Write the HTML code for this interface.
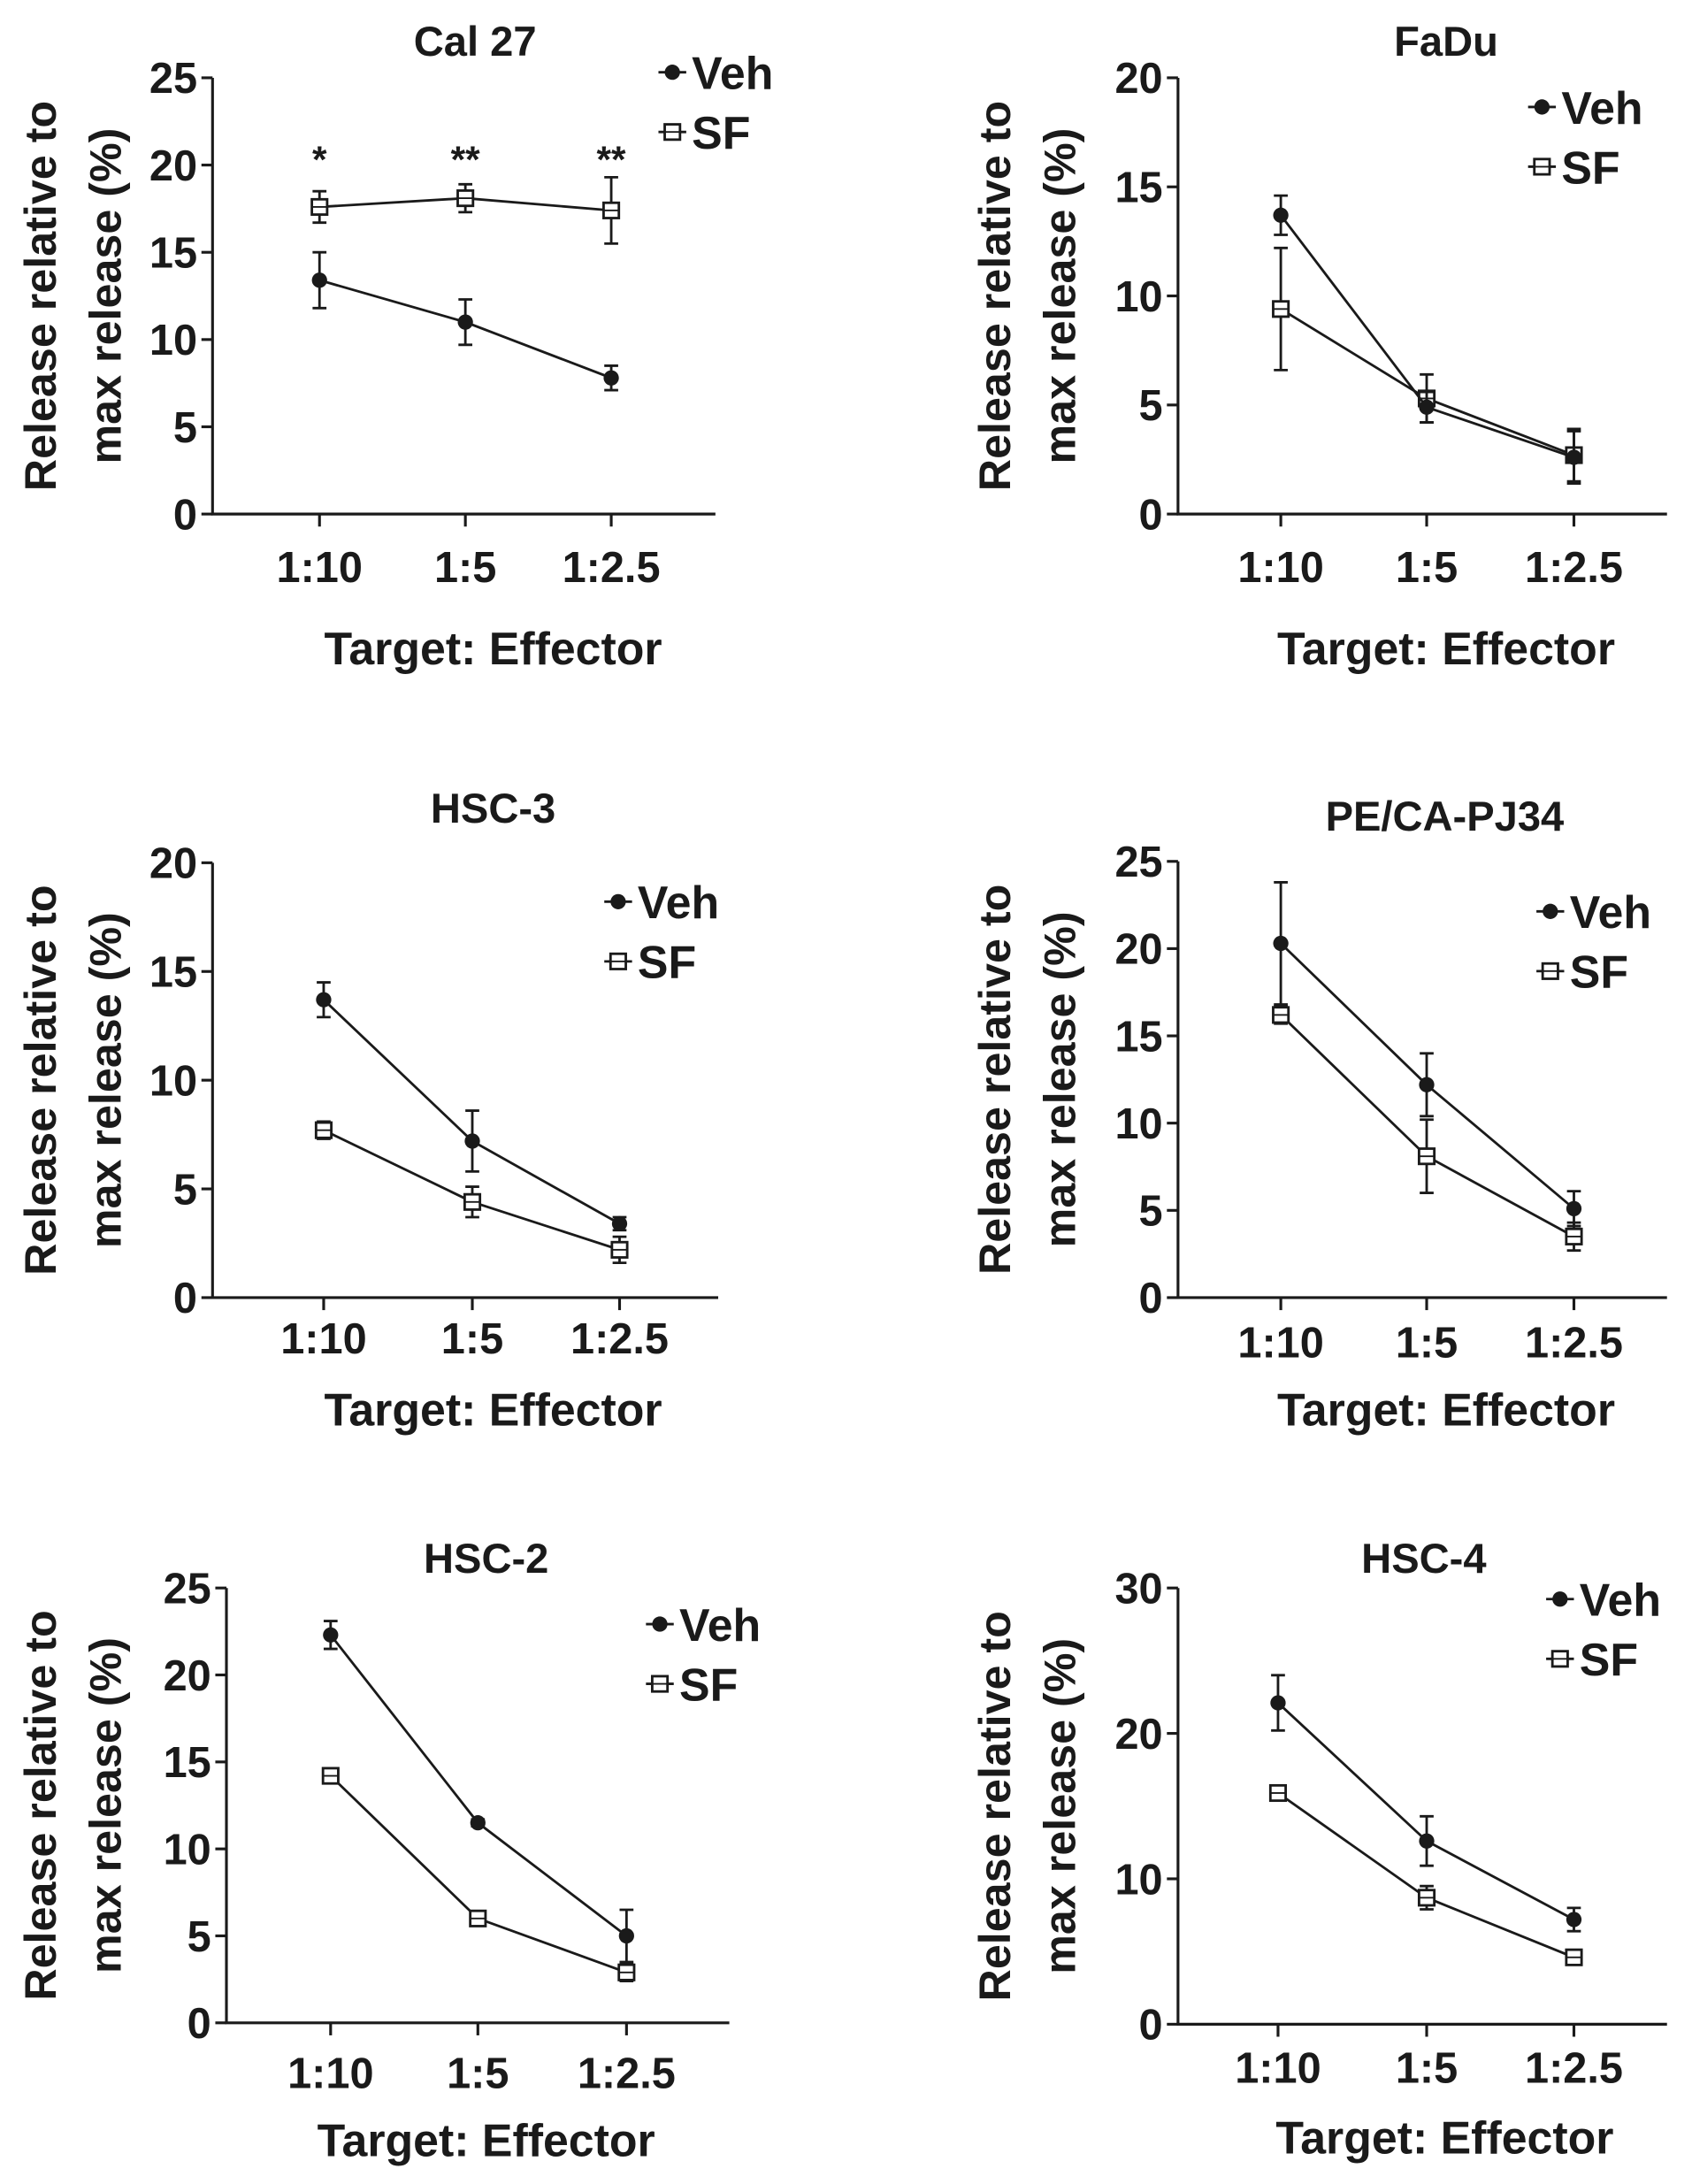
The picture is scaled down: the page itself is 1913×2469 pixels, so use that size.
<!DOCTYPE html>
<html><head><meta charset="utf-8"><style>
html,body{margin:0;padding:0;background:#fff}
svg{display:block}
text{font-family:"Liberation Sans",Arial,sans-serif;fill:#1a1a1a;font-weight:bold}
</style></head><body>
<svg id="fig" width="1913" height="2469" viewBox="0 0 1218 1572" preserveAspectRatio="none" xmlns="http://www.w3.org/2000/svg"></svg>
<script>
const categories = ["1:10","1:5","1:2.5"];
const panelTitles = ["Cal 27","FaDu","HSC-3","PE/CA-PJ34","HSC-2","HSC-4"];
const vehValues = [[13.4,11.0,7.8],[13.7,4.9,2.6],[13.7,7.2,3.4],[20.3,12.2,5.1],[22.3,11.5,5.0],[22.1,12.6,7.2]];
const vehErrors = [[1.6,1.3,0.7],[0.9,0.7,1.2],[0.8,1.4,0.3],[3.5,1.8,1.0],[0.8,0.2,1.5],[1.9,1.7,0.8]];
const sfValues = [[17.6,18.1,17.4],[9.4,5.3,2.7],[7.7,4.4,2.2],[16.2,8.1,3.5],[14.2,6.0,2.9],[15.9,8.7,4.6]];
const sfErrors = [[0.9,0.8,1.9],[2.8,1.1,1.2],[0.4,0.7,0.6],[0.5,2.1,0.8],[0.3,0.3,0.5],[0.3,0.8,0.4]];
const yMax = [25,20,20,25,25,30];
const yStep = [5,5,5,5,5,10];
const stars = ["*","**","**"];

const layouts = [
 {ax:153,top:56,bot:370,xend:515,ticks:[230,335,440],tx:342,ty:40,lx:484,ly:52,tly:408,xty:478,xtc:355,ylx:28},
 {ax:848,top:56,bot:370,xend:1200,ticks:[922,1027,1133],tx:1041,ty:40,lx:1110,ly:77,tly:408,xty:478,xtc:1041,ylx:715},
 {ax:153,top:621,bot:934,xend:517,ticks:[233,340,446],tx:355,ty:592,lx:445,ly:649,tly:963,xty:1026,xtc:355,ylx:28},
 {ax:848,top:620,bot:934,xend:1200,ticks:[922,1027,1133],tx:1040,ty:598,lx:1116,ly:656,tly:966,xty:1026,xtc:1041,ylx:715},
 {ax:163,top:1143,bot:1456,xend:525,ticks:[238,344,451],tx:350,ty:1132,lx:475,ly:1169,tly:1492,xty:1552,xtc:350,ylx:28},
 {ax:848,top:1143,bot:1457,xend:1200,ticks:[920,1027,1133],tx:1025,ty:1132,lx:1123,ly:1151,tly:1488,xty:1550,xtc:1040,ylx:715}
];
const svg=document.getElementById('fig');
const NS="http://www.w3.org/2000/svg";
function mk(tag,attrs,parent){const e=document.createElementNS(NS,tag);for(const k in attrs)e.setAttribute(k,attrs[k]);(parent||svg).appendChild(e);return e;}
function txt(str,attrs,parent){const e=mk('text',attrs,parent);e.textContent=str;return e;}
const S='#1a1a1a';
function circle(g,x,y){const c=mk('circle',{cx:x,cy:y,r:5.5,fill:S},g);return c;}
function square(g,x,y){const r=mk('rect',{x:x-5.5,y:y-5.5,width:11,height:11,fill:'#fff',stroke:S,'stroke-width':1.8},g);mk('line',{x1:x-5,y1:y,x2:x+5,y2:y,stroke:S,'stroke-width':1.2},g);return r;}
layouts.forEach((L,p)=>{
  const g=mk('g',{});
  
  
  const y=v=>L.bot-(v/yMax[p])*(L.bot-L.top);
  const x=i=>L.ticks[i];
  const ya=mk('line',{x1:L.ax,y1:L.top,x2:L.ax,y2:L.bot,stroke:S,'stroke-width':2},g);
  
  const xa=mk('line',{x1:L.ax-1,y1:L.bot,x2:L.xend,y2:L.bot,stroke:S,'stroke-width':2},g);
  
  for(let v=0;v<=yMax[p];v+=yStep[p]){
    mk('line',{x1:L.ax-8,y1:y(v),x2:L.ax,y2:y(v),stroke:S,'stroke-width':2},g);
    const t=txt(String(v),{x:L.ax-11,y:y(v)+11,'font-size':31,'text-anchor':'end'},g);
    
  }
  categories.forEach((c,i)=>{
    mk('line',{x1:x(i),y1:L.bot,x2:x(i),y2:L.bot+9,stroke:S,'stroke-width':2},g);
    const t=txt(c,{x:x(i),y:L.tly+11,'font-size':31,'text-anchor':'middle'},g);
    
  });
  const ti=txt(panelTitles[p],{x:L.tx,y:L.ty,'font-size':30,'text-anchor':'middle'},g);
  
  const xt=txt('Target: Effector',{x:L.xtc,y:L.xty,'font-size':33,'text-anchor':'middle'},g);
  
  const cy=(L.top+L.bot)/2;
  const y1=txt('Release relative to',{x:0,y:0,'font-size':32,'text-anchor':'middle',transform:`translate(${L.ylx+12},${cy}) rotate(-90)`},g);
  
  const y2=txt('max release (%)',{x:0,y:0,'font-size':32,'text-anchor':'middle',transform:`translate(${L.ylx+59},${cy}) rotate(-90)`},g);
  
  [[sfValues,sfErrors,'sf'],[vehValues,vehErrors,'veh']].forEach(([vals,errs,nm])=>{
    const pts=vals[p].map((v,i)=>x(i)+','+y(v)).join(' ');
    const pl=mk('polyline',{points:pts,fill:'none',stroke:S,'stroke-width':1.8},g);
    
    vals[p].forEach((v,i)=>{
      const e=errs[p][i];
      const eb=mk('path',{d:`M${x(i)},${y(v+e)}V${y(v-e)}M${x(i)-5},${y(v+e)}H${x(i)+5}M${x(i)-5},${y(v-e)}H${x(i)+5}`,stroke:S,'stroke-width':1.8,fill:'none'},g);
      
      if(nm==='veh')circle(g,x(i),y(v));else square(g,x(i),y(v));
    });
  });
  if(p===0){stars.forEach((s,i)=>{const t=txt(s,{x:x(i),y:124,'font-size':27,'font-weight':'normal','text-anchor':'middle'},g);});}
  const lg=mk('g',{},g);
  mk('line',{x1:L.lx-10,y1:L.ly,x2:L.lx+10,y2:L.ly,stroke:S,'stroke-width':1.8},lg);
  circle(lg,L.lx,L.ly);
  const lv=txt('Veh',{x:L.lx+14,y:L.ly+12,'font-size':33},lg);
  const sy=L.ly+43;
  mk('line',{x1:L.lx-10,y1:sy,x2:L.lx+10,y2:sy,stroke:S,'stroke-width':1.8},lg);
  square(lg,L.lx,sy);
  const ls=txt('SF',{x:L.lx+14,y:sy+12,'font-size':33},lg);
});
</script>
</body></html>
